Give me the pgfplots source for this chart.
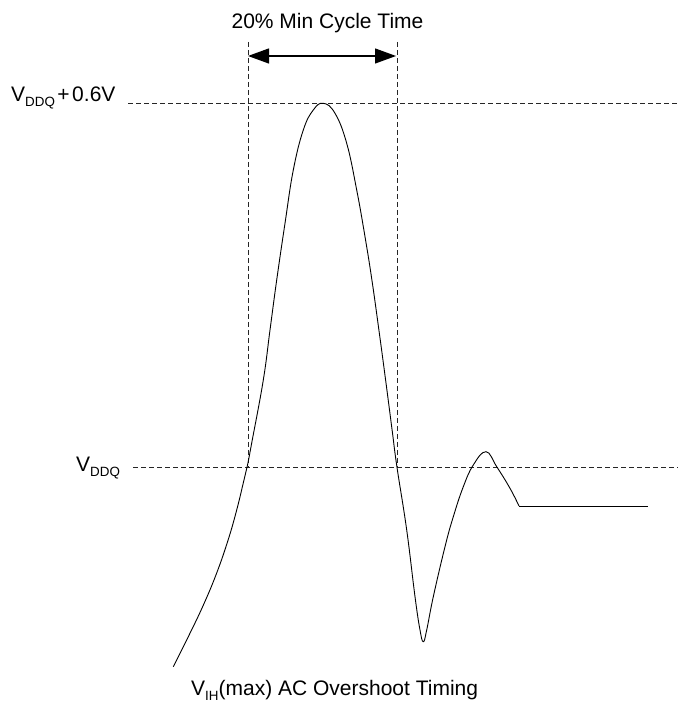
\documentclass[border=0pt]{standalone}
\usepackage{pgfplots}
\pgfplotsset{compat=1.18}
\usetikzlibrary{arrows.meta}
\usepackage{fontspec}
\setmainfont{Liberation Sans}
\newcommand{\lbl}{\fontsize{21bp}{25bp}\selectfont}
\newcommand{\sub}[1]{\raisebox{-4.5bp}{\fontsize{13.4bp}{15bp}\selectfont #1}}
\begin{document}
\begin{tikzpicture}
\begin{axis}[x=1bp, y=1bp, xmin=0, xmax=678, ymin=0, ymax=702,
  hide axis, clip=false, scale only axis]
\path (axis cs:0,0) rectangle (axis cs:678,702);
% reference levels
\addplot[black!85, line width=0.9bp, dash pattern=on 5bp off 3bp] coordinates {(128,599) (678,599)};
\addplot[black!85, line width=0.9bp, dash pattern=on 5bp off 3bp] coordinates {(133,235) (678,235)};
\addplot[black!85, line width=0.9bp, dash pattern=on 5bp off 3bp] coordinates {(248,660) (248,235)};
\addplot[black!85, line width=0.9bp, dash pattern=on 5bp off 3bp] coordinates {(397,660) (397,235)};
% arrow
\addplot[black, line width=1.2bp, {Triangle[length=21bp,width=15bp]}-{Triangle[length=21bp,width=15bp]}] coordinates {(248,646) (396,646)};
% waveform
\addplot[black, line width=0.9bp, smooth, tension=0.7] coordinates {
(173.3,35.3) (188.3,65.3) (203.3,96.8) (216.7,129) (228.3,162.6) (236.7,192)
(243.3,219.1) (247.3,236) (251.7,259) (263.3,322) (270,372) (276.7,422)
(285,478.7) (293.3,532) (303.3,572) (313.3,592) (323.3,598.7) (335,588.7)
(346.7,558.7) (356.7,512) (365,465.3) (371.9,422) (378.9,372) (385.6,322)
(392.1,272) (396.9,235.3) (406.7,172) (415,105.3) (420,72) (423.3,60.3)
(426.7,72) (433.3,105.3) (445,155.3) (453.3,185.3) (463.3,215.3) (473.3,237)
(486,250.3) (496.7,235.3) (510,213.7) (519,196)};
\addplot[black, line width=0.9bp] coordinates {(519,196) (648,196)};
% texts
\node[anchor=base, inner sep=0pt] at (axis cs:327.5,673.5) {\lbl 20\% Min Cycle Time};
\node[anchor=base west, inner sep=0pt] at (axis cs:11,600) {\lbl V\sub{DDQ}\kern2.5bp+\kern2.5bp0.6V};
\node[anchor=base west, inner sep=0pt] at (axis cs:76,230) {\lbl V\sub{DDQ}};
\node[anchor=base west, inner sep=0pt] at (axis cs:191,6) {\lbl V\sub{IH}(max) AC Overshoot Timing};
\end{axis}
\end{tikzpicture}
\end{document}
